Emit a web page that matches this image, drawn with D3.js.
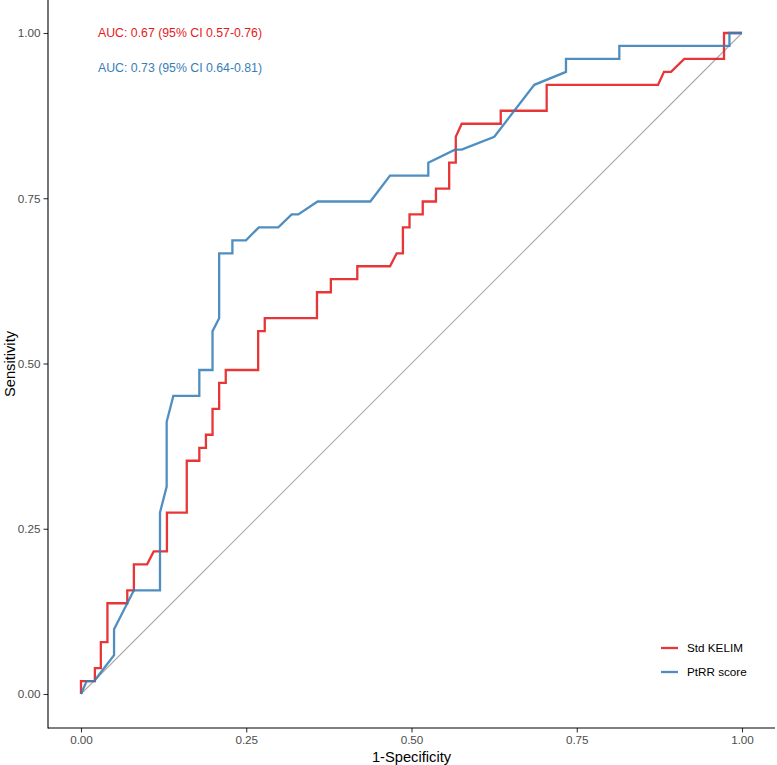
<!DOCTYPE html>
<html><head><meta charset="utf-8">
<script src="https://cdn.jsdelivr.net/npm/d3@7"></script>
<style>body{margin:0;background:#fff}svg{display:block;font-family:"Liberation Sans",Arial,sans-serif}</style>
</head><body><svg id="c" width="777" height="765"></svg>
<script>
const seriesNames = ["Std KELIM", "PtRR score"];
const seriesColors = ["#E41A1C", "#377EB8"];
const aucLabels = ["AUC: 0.67 (95% CI 0.57-0.76)", "AUC: 0.73 (95% CI 0.64-0.81)"];
const xTicks = [0, 0.25, 0.5, 0.75, 1];
const yTicks = [0, 0.25, 0.5, 0.75, 1];

const kelimFpr = [0,0,0.021,0.021,0.030,0.030,0.040,0.040,0.070,0.070,0.080,0.080,0.100,0.110,0.130,0.130,0.160,0.160,0.179,0.179,0.189,0.189,0.199,0.199,0.209,0.209,0.219,0.219,0.268,0.268,0.278,0.278,0.357,0.357,0.378,0.378,0.418,0.418,0.4675,0.4776,0.487,0.487,0.497,0.497,0.517,0.517,0.537,0.537,0.557,0.557,0.567,0.567,0.576,0.635,0.635,0.7045,0.7045,0.873,0.882,0.8926,0.9127,0.9728,0.9728,1];
const kelimTpr = [0,0.0196,0.0196,0.0392,0.0392,0.0784,0.0784,0.1373,0.1373,0.1569,0.1569,0.1961,0.1961,0.2157,0.2157,0.2745,0.2745,0.3529,0.3529,0.3725,0.3725,0.3922,0.3922,0.4314,0.4314,0.4706,0.4706,0.4902,0.4902,0.5490,0.5490,0.5686,0.5686,0.6078,0.6078,0.6275,0.6275,0.6471,0.6471,0.6667,0.6667,0.7059,0.7059,0.7255,0.7255,0.7451,0.7451,0.7647,0.7647,0.8039,0.8039,0.8431,0.8627,0.8627,0.8824,0.8824,0.9216,0.9216,0.9412,0.9412,0.9608,0.9608,1,1];

const ptrrFpr = [0,0.0086,0.020,0.050,0.050,0.080,0.1195,0.1195,0.1296,0.1296,0.1397,0.179,0.179,0.199,0.199,0.209,0.209,0.229,0.229,0.2496,0.269,0.2985,0.3187,0.3287,0.358,0.4377,0.4675,0.5254,0.5254,0.5658,0.5759,0.6253,0.6858,0.7337,0.7337,0.8144,0.8144,0.981,0.981,1];
const ptrrTpr = [0,0.0196,0.0196,0.0588,0.0980,0.1569,0.1569,0.2745,0.3137,0.4118,0.4510,0.4510,0.4902,0.4902,0.5490,0.5686,0.6667,0.6667,0.6863,0.6863,0.7059,0.7059,0.7255,0.7255,0.7451,0.7451,0.7843,0.7843,0.8039,0.8235,0.8235,0.8431,0.9216,0.9412,0.9608,0.9608,0.9804,0.9804,1,1];

const svg = d3.select("#c");
const x = d3.scaleLinear().domain([0,1]).range([81,742]);
const y = d3.scaleLinear().domain([0,1]).range([694,33]);
const panel = {left:48, right:775, top:0, bottom:728};

// diagonal reference
svg.append("line").attr("x1",x(0)).attr("y1",y(0)).attr("x2",x(1)).attr("y2",y(1))
  .attr("stroke","#AAAAAA").attr("stroke-width",1.1);

const series = [
  {name: seriesNames[0], fx: kelimFpr, fy: kelimTpr, color: seriesColors[0]},
  {name: seriesNames[1], fx: ptrrFpr, fy: ptrrTpr, color: seriesColors[1]}
];
const line = d3.line().x(d=>x(d[0])).y(d=>y(d[1]));
series.forEach(s=>{
  svg.append("path").datum(d3.zip(s.fx, s.fy)).attr("d", line)
    .attr("fill","none").attr("stroke", s.color).attr("stroke-opacity",0.88)
    .attr("stroke-width",2.3).attr("stroke-linejoin","miter");
});

// axes
const xAxis = d3.axisBottom(x).tickValues(xTicks).tickFormat(d3.format(".2f")).tickSize(4.5).tickPadding(3);
const yAxis = d3.axisLeft(y).tickValues(yTicks).tickFormat(d3.format(".2f")).tickSize(4.5).tickPadding(3);
const gx = svg.append("g").attr("transform",`translate(0,${panel.bottom})`).call(xAxis);
const gy = svg.append("g").attr("transform",`translate(${panel.left},0)`).call(yAxis);
[gx, gy].forEach(g=>{
  g.select(".domain").remove();
  g.selectAll(".tick line").attr("stroke","#333333").attr("stroke-width",1.07);
  g.selectAll(".tick text").attr("fill","#4D4D4D").style("font-size","11.7px").style("font-family","'Liberation Sans',Arial,sans-serif");
});
svg.append("line").attr("x1",panel.left).attr("x2",panel.right).attr("y1",panel.bottom).attr("y2",panel.bottom)
  .attr("stroke","#000").attr("stroke-width",1.1);
svg.append("line").attr("x1",panel.left).attr("x2",panel.left).attr("y1",panel.top).attr("y2",panel.bottom+0.5)
  .attr("stroke","#000").attr("stroke-width",1.1);

// axis titles
svg.append("text").attr("x",(panel.left+panel.right)/2).attr("y",762).attr("text-anchor","middle")
  .style("font-size","14.7px").attr("fill","#000").text("1-Specificity");
svg.append("text").attr("transform",`translate(15,${(panel.top+panel.bottom)/2}) rotate(-90)`).attr("text-anchor","middle")
  .style("font-size","14.7px").attr("fill","#000").text("Sensitivity");

// AUC annotations
aucLabels.forEach((t,i)=>{
  svg.append("text").attr("x",98).attr("y",[33,68][i]).attr("dy","0.36em")
    .style("font-size","12.3px").attr("fill",seriesColors[i]).text(t);
});

// legend
series.forEach((s,i)=>{
  const ly = 648 + i*24;
  svg.append("line").attr("x1",661).attr("x2",678).attr("y1",ly).attr("y2",ly)
    .attr("stroke",s.color).attr("stroke-opacity",0.88).attr("stroke-width",2.3);
  svg.append("text").attr("x",687).attr("y",ly).attr("dy","0.36em")
    .style("font-size","11.7px").attr("fill","#000").text(s.name);
});
</script></body></html>
